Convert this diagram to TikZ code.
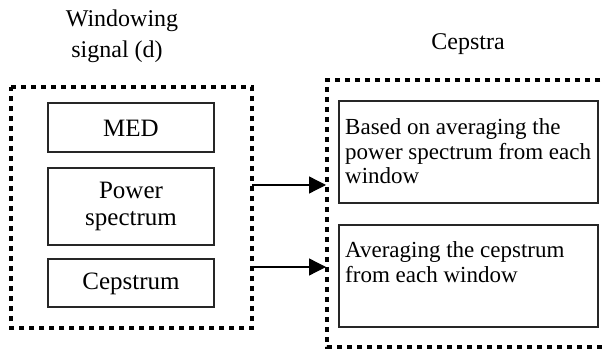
\documentclass[tikz,border=0pt]{standalone}
\usepackage{fontspec}
\setmainfont{Liberation Serif}
\usetikzlibrary{arrows.meta}
\tikzset{
  boxl/.style={draw=black!85, line width=1.2pt},
  dotbox/.style={draw=black, line width=4.6pt, dash pattern=on 5pt off 5pt},
  arr/.style={line width=1.3pt, -{Triangle[length=17pt,width=17pt]}},
  ltxt/.style={font=\fontsize{25}{27}\selectfont, align=center, inner sep=0pt},
  rtxt/.style={font=\fontsize{23}{25}\selectfont, align=left, inner sep=0pt, anchor=base west},
  ttxt/.style={font=\fontsize{24}{31}\selectfont, inner sep=0pt, anchor=base}
}
\begin{document}
\begin{tikzpicture}[x=1pt,y=-1pt]
\useasboundingbox (0,0) rectangle (602,352);
% titles
\node[ttxt] (t1) at (122,27) {Windowing};
\node[ttxt] (t2) at (117,58) {signal (d)};
\node[ttxt] (t3) at (468,50) {Cepstra};
% dotted groups
\draw[dotbox] (11,87) -- (252,87) -- (252,328) -- (11,328) -- cycle;
\draw[dotbox] (650,80) -- (327,80) -- (327,347) -- (650,347);
\coordinate (lg1) at (252,185);
\coordinate (lg2) at (252,267);
\coordinate (rg1) at (326,185);
\coordinate (rg2) at (326,267);
% left boxes
\draw[boxl] (48,103) rectangle (214,152);
\node[ltxt] (med) at (131,128) {MED};
\draw[boxl] (48,168) rectangle (214,245);
\node[ltxt, anchor=base] (pow) at (131,199) {Power};
\node[ltxt, anchor=base] (spec) at (131,226) {spectrum};
\draw[boxl] (48,259) rectangle (214,307);
\node[ltxt] (cep) at (131,284) {Cepstrum};
% right boxes
\draw[boxl] (339,101) rectangle (598,203);
\node[rtxt] (r1a) at (345,135) {Based on averaging the};
\node[rtxt] (r1b) at (345,160) {power spectrum from each};
\node[rtxt] (r1c) at (345,184) {window};
\draw[boxl] (339,225) rectangle (598,327);
\node[rtxt] (r2a) at (345,258) {Averaging the cepstrum};
\node[rtxt] (r2b) at (345,283) {from each window};
% arrows
\draw[arr] (lg1) -- (rg1);
\draw[arr] (lg2) -- (rg2);
\end{tikzpicture}
\end{document}
